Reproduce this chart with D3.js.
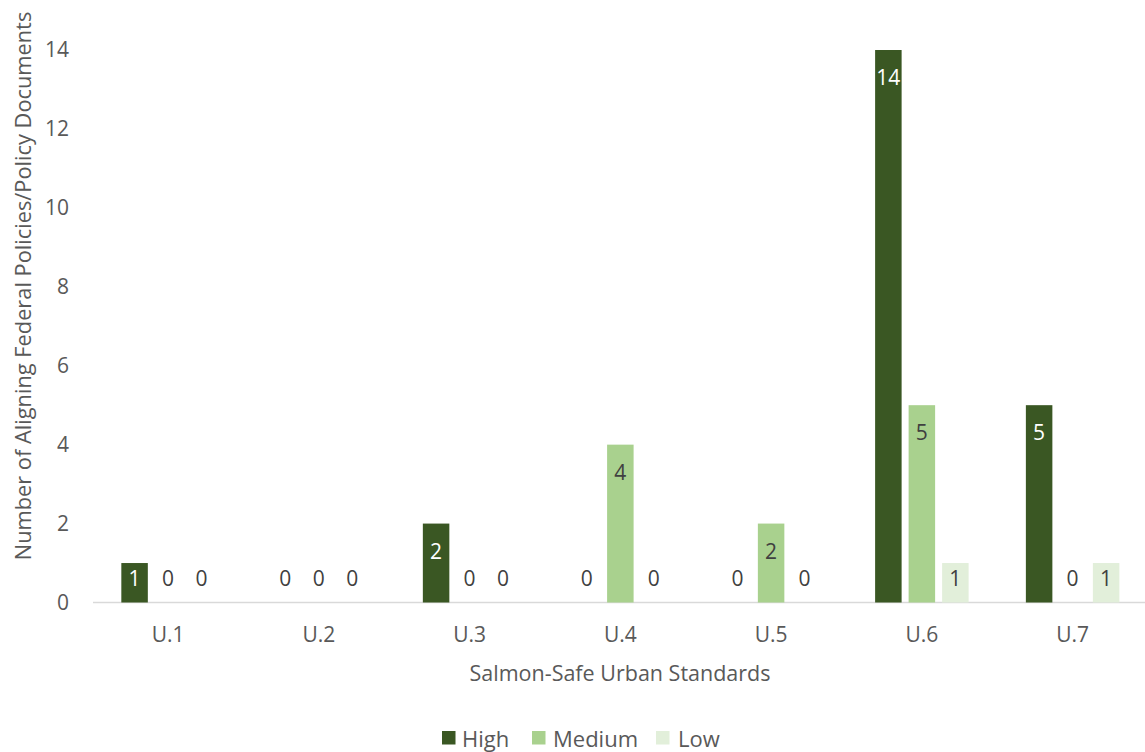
<!DOCTYPE html>
<html><head><meta charset="utf-8">
<script src="https://cdn.jsdelivr.net/npm/d3@7"></script>
<style>body{margin:0;background:#fff;}svg{display:block;font-family:"Open Sans",Lato,sans-serif;}</style>
</head><body><svg id="c" width="1145" height="752"></svg>
<script>
const categories = ["U.1","U.2","U.3","U.4","U.5","U.6","U.7"];
const seriesNames = ["High","Medium","Low"];
const high = [1,0,2,0,0,14,5];
const medium = [0,0,0,4,2,5,0];
const low = [0,0,0,0,0,1,1];
const yTicks = [0,2,4,6,8,10,12,14];
const colors = ["#3A5723","#A9D18E","#E2EFDA"];
const labelColors = ["#ffffff","#404040","#404040"];

const svg = d3.select("#c");
const x = d3.scaleBand().domain(categories).range([92.7,1148]);
const y = d3.scaleLinear().domain([0,14]).range([602.5,50]);
const inner = d3.scaleBand().domain(seriesNames).range([0,93.5]).paddingInner(7/33.5);
const data = [high, medium, low];
const font = "Open Sans";

// baseline
svg.append("line").attr("x1",93).attr("x2",1145).attr("y1",y(0)).attr("y2",y(0))
  .attr("stroke","#d9d9d9").attr("stroke-width",1.5);

// y ticks
const yAxis = svg.append("g").attr("transform","translate(69,0)")
  .call(d3.axisLeft(y).tickValues(yTicks).tickSize(0).tickPadding(0));
yAxis.select(".domain").remove();
yAxis.selectAll("text").attr("font-size",21).attr("fill","#595959").attr("font-family",font);

// x ticks
const xAxis = svg.append("g").attr("transform","translate(0,634)")
  .call(d3.axisBottom(x).tickSize(0).tickPadding(0));
xAxis.select(".domain").remove();
xAxis.selectAll("text").attr("font-size",21).attr("fill","#595959").attr("font-family",font)
  .attr("dy",null).attr("dominant-baseline","central");

// bars
seriesNames.forEach((s,si)=>{
  const g = svg.append("g");
  categories.forEach((c,ci)=>{
    const v = data[si][ci];
    const bx = x(c) + x.bandwidth()/2 - 46.75 + inner(s);
    if (v>0) {
      g.append("rect").attr("x",bx).attr("y",y(v)).attr("width",inner.bandwidth())
        .attr("height",y(0)-y(v)).attr("fill",colors[si]);
    }
    const ly = Math.min(y(v)+27, y(0)-24.5);
    g.append("text").attr("x",bx+inner.bandwidth()/2).attr("y",ly)
      .attr("text-anchor","middle").attr("dominant-baseline","central")
      .attr("font-size",21).attr("fill", v>0 ? labelColors[si] : "#404040").text(v);
  });
});

// axis titles
svg.append("text").attr("x",620).attr("y",672).attr("text-anchor","middle")
  .attr("dominant-baseline","central").attr("font-size",21.5).attr("fill","#595959")
  .text("Salmon-Safe Urban Standards");
svg.append("text").attr("transform","translate(22,286) rotate(-90)").attr("text-anchor","middle")
  .attr("dominant-baseline","central").attr("font-size",21.8).attr("fill","#595959")
  .text("Number of Aligning Federal Policies/Policy Documents");

// legend
const legendSquareX = [442, 532, 656];
const legendTextX = [462, 553, 678];
seriesNames.forEach((s,i)=>{
  svg.append("rect").attr("x",legendSquareX[i]).attr("y",731).attr("width",13.5).attr("height",13.5).attr("fill",colors[i]);
  svg.append("text").attr("x",legendTextX[i]).attr("y",737.5).attr("dominant-baseline","central")
    .attr("font-size",22).attr("fill","#595959").text(s);
});
</script></body></html>
